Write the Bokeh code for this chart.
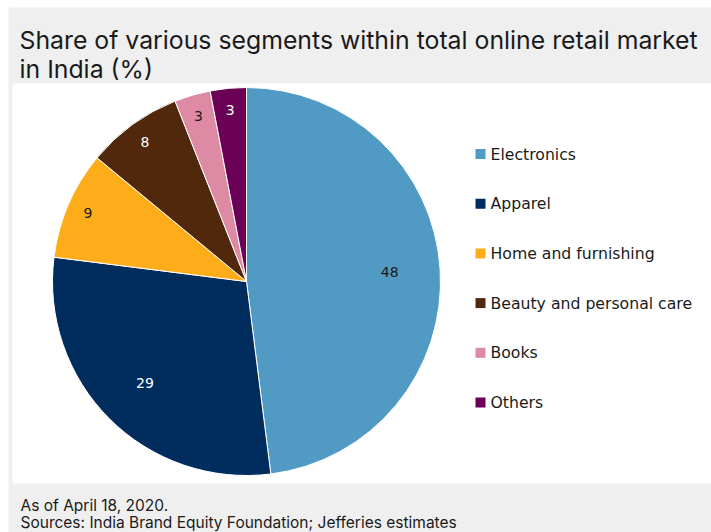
import math
from bokeh.plotting import figure
from bokeh.models import Range1d, ColumnDataSource
from bokeh.core.properties import value
from bokeh.embed import file_html
from bokeh.resources import INLINE

# ---- data ----
segments = ["Electronics", "Apparel", "Home and furnishing",
            "Beauty and personal care", "Books", "Others"]
shares = [48, 29, 9, 8, 3, 3]
colors = ["#509AC3", "#002D5E", "#FCAD19", "#52280C", "#DE8AA4", "#6B0057"]
label_colors = ["#1a1a1a", "#ffffff", "#1a1a1a", "#ffffff", "#1a1a1a", "#ffffff"]
title_lines = ["Share of various segments within total online retail market",
               "in India (%)"]
footer_lines = ["As of April 18, 2020.",
                "Sources: India Brand Equity Foundation; Jefferies estimates"]

# ---- layout (pixel-like data space, origin at page top-left) ----
W, H = 711, 532
def X(px): return px
def Y(py): return H - py

p = figure(width=W, height=H, x_range=Range1d(0, W), y_range=Range1d(0, H),
           output_backend="svg", toolbar_location=None, min_border=0)
p.axis.visible = False
p.grid.visible = False
p.outline_line_color = None
p.background_fill_color = "white"
p.border_fill_color = "white"

# gray card
p.quad(left=[X(8)], right=[X(720)], bottom=[Y(540)], top=[Y(7)],
       fill_color="#EFEFEF", line_color=None)
# white panel
p.quad(left=[X(12)], right=[X(720)], bottom=[Y(483)], top=[Y(83)],
       fill_color="white", line_color=None)

# pie
cx, cy, R = X(246), Y(281), 194
total = sum(shares)
cum = [0]
for v in shares:
    cum.append(cum[-1] + v)
starts = [math.pi / 2 - 2 * math.pi * cum[i + 1] / total for i in range(len(shares))]
ends = [math.pi / 2 - 2 * math.pi * cum[i] / total for i in range(len(shares))]
src = ColumnDataSource(dict(start=starts, end=ends, color=colors, seg=segments, val=shares))
p.wedge(x=cx, y=cy, radius=R, start_angle="start", end_angle="end",
        fill_color="color", line_color="white", line_width=1, source=src)

# slice labels
lx, ly = [], []
for i, v in enumerate(shares):
    mid = 2 * math.pi * (cum[i] + v / 2) / total
    rr = R * (0.74 if v >= 20 else 0.89)
    lx.append(cx + rr * math.sin(mid))
    ly.append(cy + rr * math.cos(mid))
p.text(x=lx, y=ly, text=[str(v) for v in shares], text_color=label_colors,
       text_align="center", text_baseline="middle",
       text_font=value("DejaVu Sans"), text_font_size="14px")

# legend
leg_y = [Y(153.5 + 49.7 * i) for i in range(len(segments))]
p.rect(x=[X(480)] * len(segments), y=leg_y, width=10, height=10,
       width_units="screen", height_units="screen", fill_color=colors, line_color=None)
p.text(x=[X(490)] * len(segments), y=leg_y, text=segments, text_color="#1a1a1a",
       text_align="left", text_baseline="middle",
       text_font=value("DejaVu Sans"), text_font_size="15.7px")

# title
p.text(x=[X(19), X(19)], y=[Y(39), Y(68)], text=title_lines, text_color="#1a1a1a",
       text_align="left", text_baseline="alphabetic",
       text_font=value("Inter"), text_font_size="24.8px")

# footer
p.text(x=[X(20), X(20)], y=[Y(505), Y(522)], text=footer_lines, text_color="#1a1a1a",
       text_align="left", text_baseline="alphabetic",
       text_font=value("Inter"), text_font_size="15.5px")

open("out.html", "w").write(file_html(p, INLINE))
